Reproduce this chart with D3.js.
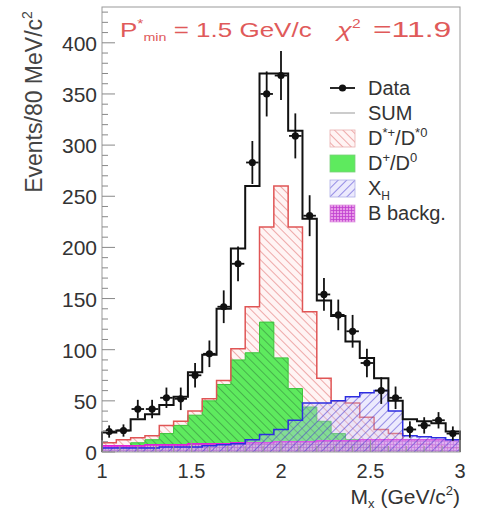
<!DOCTYPE html>
<html>
<head>
<meta charset="utf-8">
<script src="https://cdn.jsdelivr.net/npm/d3@7"></script>
<style>
  body { margin: 0; background: #fff; }
  text { font-family: "Liberation Sans", Arial, sans-serif; }
</style>
</head>
<body>
<div id="chart"></div>
<script>
// M_X bins (80 MeV wide), bin centres in GeV/c^2
var massBins = [1.04, 1.12, 1.20, 1.28, 1.36, 1.44, 1.52, 1.60, 1.68, 1.76, 1.84, 1.92, 2.00,
                2.08, 2.16, 2.24, 2.32, 2.40, 2.48, 2.56, 2.64, 2.72, 2.80, 2.88, 2.96];
var binHalf = 0.04;

var dataVals = [20, 21, 42, 42, 53, 52, 75, 96, 142, 184, 283, 350, 368, 309, 231, 154, 134, 118, 87, 60, 53, 22, 26, 31, 18];
var dataErr  = [6, 6, 9, 9, 10, 11, 12, 13, 16, 17, 21, 22, 24, 22, 20, 16, 15, 16, 14, 13, 11, 8, 8, 8, 7];
var sumVals  = [19, 21, 32, 37, 46, 54, 78, 95, 140, 199, 260, 370, 370, 314, 228, 148, 133, 108, 92, 72, 50, 32, 30, 28, 20];
var dstarVals = [9, 12, 14, 16, 26, 30, 40, 52, 70, 101, 142, 220, 260, 220, 137, 72, 50, 48, 34, 22, 18, 12, 8, 6, 4];
var dVals     = [3, 6, 9, 12, 18, 26, 36, 50, 66, 90, 97, 127, 92, 62, 44, 30, 18, 12, 8, 5, 3, 2, 2, 1, 1];
var xhVals    = [4, 4, 4, 4, 5, 5, 5, 6, 7, 8, 12, 17, 22, 31, 48, 48, 50, 54, 58, 60, 40, 16, 15, 14, 12];
var bVals     = [6, 6, 6, 7, 7, 7, 8, 8, 8, 9, 9, 9, 10, 10, 10, 11, 11, 11, 12, 12, 12, 12, 12, 12, 12];

var xTicks = [1, 1.5, 2, 2.5, 3];
var yTicks = [0, 50, 100, 150, 200, 250, 300, 350, 400];

var W = 477, H = 512;
var x = d3.scaleLinear().domain([1, 3]).range([102, 460]);
var y = d3.scaleLinear().domain([0, 435]).range([452, 7]);

var svg = d3.select('#chart').append('svg')
	.attr('width', W).attr('height', H)
	.attr('xmlns', 'http://www.w3.org/2000/svg');

var defs = svg.append('defs');

function hatch(id, color, angle, gap, bg, w) {
	var p = defs.append('pattern').attr('id', id)
		.attr('patternUnits', 'userSpaceOnUse')
		.attr('width', gap).attr('height', gap)
		.attr('patternTransform', 'rotate(' + angle + ')');
	if (bg) p.append('rect').attr('width', gap).attr('height', gap).attr('fill', bg);
	p.append('line').attr('x1', 0).attr('y1', 0).attr('x2', 0).attr('y2', gap)
		.attr('stroke', color).attr('stroke-width', w || 1.1);
}
hatch('hRed', '#e06a6a', -45, 6, 'rgba(255,228,228,0.4)');
hatch('hBlue', '#4a3ad0', 45, 6, 'rgba(200,195,250,0.35)');
hatch('hGreen', '#2f7a3a', -45, 6, '#5eea5e', 1);

var grid = defs.append('pattern').attr('id', 'hMag')
	.attr('patternUnits', 'userSpaceOnUse').attr('width', 3).attr('height', 3);
grid.append('rect').attr('width', 3).attr('height', 3).attr('fill', '#e89ae8');
grid.append('path').attr('d', 'M0,0.5H3M0.5,0V3').attr('stroke', '#c040d0').attr('stroke-width', 0.8);

// step helpers
function stepPts(vals) {
	var p = massBins.map(function (m, i) { return [m - binHalf, vals[i]]; });
	p.push([massBins[massBins.length - 1] + binHalf, vals[vals.length - 1]]);
	return p;
}
var area = d3.area().curve(d3.curveStepAfter)
	.x(function (d) { return x(d[0]); })
	.y0(y(0))
	.y1(function (d) { return y(d[1]); });
var outline = d3.line().curve(d3.curveStepAfter)
	.x(function (d) { return x(d[0]); })
	.y(function (d) { return y(d[1]); });
function closedPts(vals) {
	return [[1, 0]].concat(stepPts(vals), [[3, 0]]);
}

var plot = svg.append('g');

// D*+/D*0 red hatch
plot.append('path').attr('d', area(stepPts(dstarVals))).attr('fill', 'url(#hRed)');

// D+/D0 green with dark hatch
plot.append('path').attr('d', area(stepPts(dVals))).attr('fill', 'url(#hGreen)');
plot.append('path').attr('d', outline(closedPts(dVals))).attr('fill', 'none')
	.attr('stroke', '#3cc43c').attr('stroke-width', 1);

plot.append('path').attr('d', outline(closedPts(dstarVals))).attr('fill', 'none')
	.attr('stroke', '#e05555').attr('stroke-width', 1.5);

// B background magenta
plot.append('path').attr('d', area(stepPts(bVals))).attr('fill', 'url(#hMag)').attr('opacity', 0.85);
plot.append('path').attr('d', outline(closedPts(bVals))).attr('fill', 'none')
	.attr('stroke', '#e020d8').attr('stroke-width', 1.6);

// X_H blue hatch
plot.append('path').attr('d', area(stepPts(xhVals))).attr('fill', 'url(#hBlue)');
plot.append('path').attr('d', outline(closedPts(xhVals))).attr('fill', 'none')
	.attr('stroke', '#2d2de0').attr('stroke-width', 1.5);

// SUM
plot.append('path').attr('d', outline(closedPts(sumVals))).attr('fill', 'none')
	.attr('stroke', '#111').attr('stroke-width', 2);

// data points
var pts = plot.append('g');
massBins.forEach(function (m, i) {
	pts.append('line')
		.attr('x1', x(m)).attr('x2', x(m))
		.attr('y1', y(dataVals[i] - dataErr[i])).attr('y2', y(dataVals[i] + dataErr[i]))
		.attr('stroke', '#111').attr('stroke-width', 1.8);
	pts.append('line')
		.attr('x1', x(m - 0.035)).attr('x2', x(m + 0.035))
		.attr('y1', y(dataVals[i])).attr('y2', y(dataVals[i]))
		.attr('stroke', '#111').attr('stroke-width', 1.8);
	pts.append('circle').attr('cx', x(m)).attr('cy', y(dataVals[i])).attr('r', 3.6).attr('fill', '#111');
});

// frame
svg.append('rect').attr('x', x(1)).attr('y', y(435)).attr('width', x(3) - x(1)).attr('height', y(0) - y(435))
	.attr('fill', 'none').attr('stroke', '#999').attr('stroke-width', 1);

// y axis ticks (inward)
var yAxis = svg.append('g').attr('transform', 'translate(' + x(1) + ',0)');
d3.range(0, 436, 10).forEach(function (v) {
	var major = v % 50 === 0;
	yAxis.append('line').attr('x1', 0).attr('x2', major ? 13 : 6)
		.attr('y1', y(v)).attr('y2', y(v)).attr('stroke', '#888').attr('stroke-width', 1);
});
yAxis.selectAll('text.yt').data(yTicks).enter().append('text')
	.attr('x', -5).attr('y', function (d) { return y(d) + 8; })
	.attr('text-anchor', 'end').attr('font-size', 21).attr('fill', '#333')
	.text(function (d) { return d; });

// x axis ticks (inward)
var xAxis = svg.append('g');
d3.range(10, 31, 1).forEach(function (k) {
	var v = k / 10, major = k % 5 === 0;
	xAxis.append('line').attr('x1', x(v)).attr('x2', x(v))
		.attr('y1', y(0)).attr('y2', y(0) - (major ? 12 : 6)).attr('stroke', '#999');
});
xAxis.selectAll('text.xt').data(xTicks).enter().append('text')
	.attr('x', function (d) { return x(d); }).attr('y', 478)
	.attr('text-anchor', 'middle').attr('font-size', 20).attr('fill', '#333')
	.text(function (d) { return d; });

// axis titles
var xt = svg.append('text').attr('x', 460).attr('y', 504).attr('text-anchor', 'end')
	.attr('font-size', 21).attr('fill', '#333');
xt.append('tspan').text('M');
xt.append('tspan').attr('font-size', 13).attr('dy', 4).text('x');
xt.append('tspan').attr('dy', -4).text(' (GeV/c');
xt.append('tspan').attr('font-size', 13).attr('dy', -9).text('2');
xt.append('tspan').attr('dy', 9).text(')');

var yt = svg.append('text').attr('transform', 'translate(42,102) rotate(-90)')
	.attr('text-anchor', 'middle').attr('font-size', 23).attr('fill', '#444');
yt.append('tspan').text('Events/80 MeV/c');
yt.append('tspan').attr('font-size', 14).attr('dy', -10).text('2');

// header text (wide lettering, stretched horizontally)
var t1 = svg.append('text').attr('transform', 'translate(120,37) scale(1.3,1)')
	.attr('font-size', 20).attr('fill', '#e05a5a');
t1.append('tspan').text('P');
t1.append('tspan').attr('font-size', 12).attr('dy', -9).text('*');
t1.append('tspan').attr('font-size', 11).attr('dy', 13).text('min');
t1.append('tspan').attr('dy', -4).text(' = 1.5 GeV/c');
var t2 = svg.append('text').attr('transform', 'translate(337,37) scale(1.3,1)')
	.attr('font-size', 21).attr('fill', '#e05a5a');
t2.append('tspan').attr('font-style', 'italic').text('\u03c7');
t2.append('tspan').attr('font-size', 12).attr('dy', -9).text('2');
svg.append('text').attr('transform', 'translate(373,37) scale(1.45,1)')
	.attr('font-size', 22).attr('fill', '#e05a5a').text('=11.9');

// legend
var legRows = [88, 113, 138, 163, 188, 213];
var leg = svg.append('g');
function legText(i, parts) {
	var t = leg.append('text').attr('x', 368).attr('y', legRows[i] + 7).attr('font-size', 20).attr('fill', '#333');
	parts.forEach(function (p) {
		var s = t.append('tspan').text(p[0]);
		if (p[1]) s.attr('dy', p[1]);
		if (p[2]) s.attr('font-size', p[2]);
	});
}
leg.append('line').attr('x1', 330).attr('x2', 355).attr('y1', legRows[0]).attr('y2', legRows[0])
	.attr('stroke', '#111').attr('stroke-width', 1.8);
leg.append('circle').attr('cx', 342.5).attr('cy', legRows[0]).attr('r', 3.6).attr('fill', '#111');
legText(0, [['Data']]);
leg.append('line').attr('x1', 330).attr('x2', 355).attr('y1', legRows[1]).attr('y2', legRows[1])
	.attr('stroke', '#999').attr('stroke-width', 1);
legText(1, [['SUM']]);
var swatches = [['url(#hRed)', '#e9b0b0'], ['#5eea5e', '#7ccf7c'], ['url(#hBlue)', '#b0b0e6'], ['url(#hMag)', '#e0a0e0']];
swatches.forEach(function (s, k) {
	leg.append('rect').attr('x', 330).attr('y', legRows[k + 2] - 8).attr('width', 25).attr('height', 17)
		.attr('fill', s[0]).attr('stroke', s[1]).attr('stroke-width', 0.8);
});
legText(2, [['D'], ['*+', -8, 13], ['/D', 8, 20], ['*0', -8, 13]]);
legText(3, [['D'], ['+', -8, 13], ['/D', 8, 20], ['0', -8, 13]]);
legText(4, [['X'], ['H', 5, 12]]);
legText(5, [['B backg.']]);
</script>
</body>
</html>
